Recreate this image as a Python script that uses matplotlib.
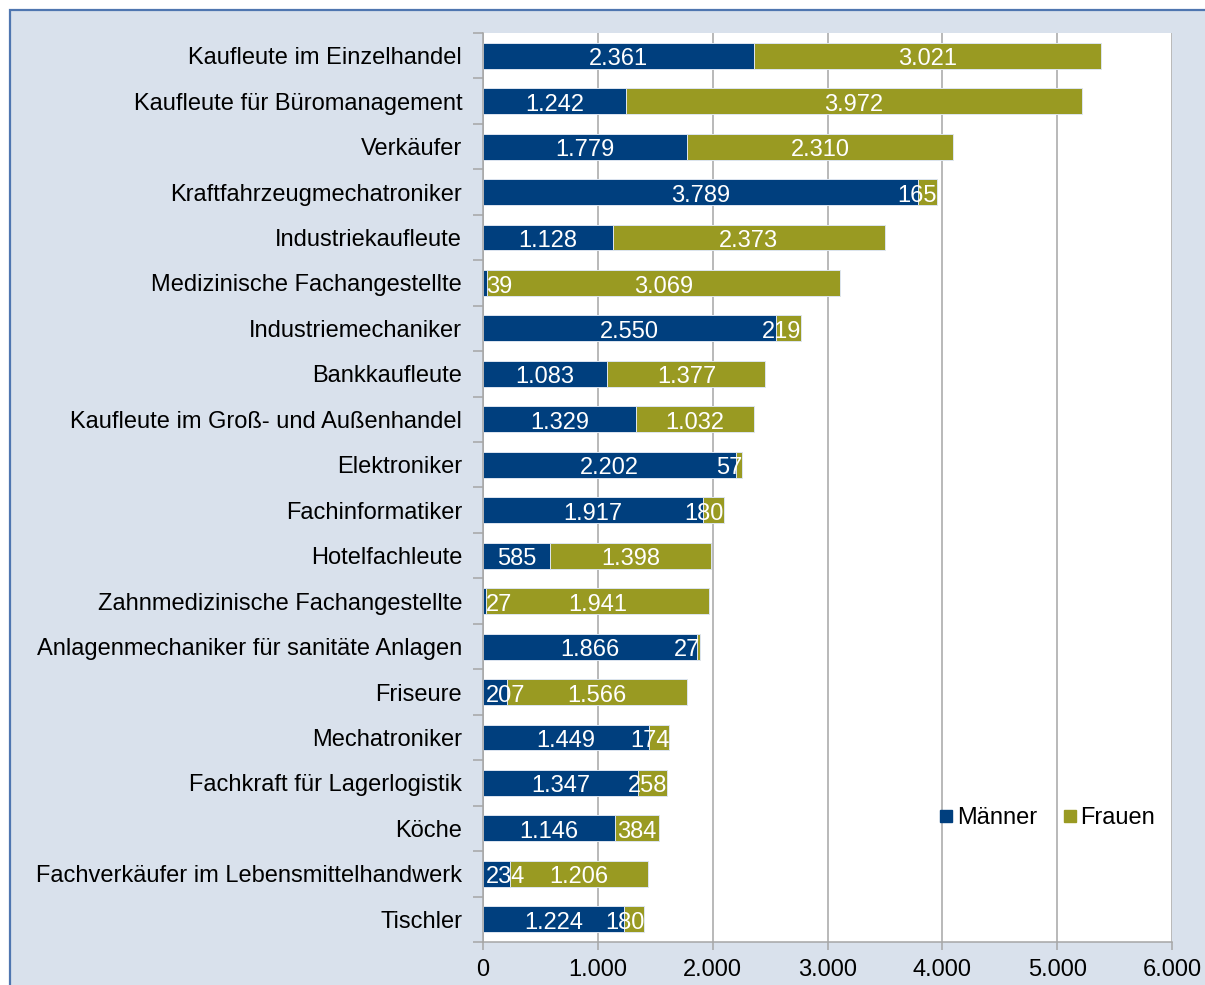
import matplotlib
matplotlib.use("Agg")
from matplotlib import pyplot as plt
from matplotlib.patches import Rectangle
from matplotlib.lines import Line2D
import numpy as np

plt.rcParams['font.family'] = ['Liberation Sans', 'DejaVu Sans']

berufe = ["Kaufleute im Einzelhandel", "Kaufleute für Büromanagement", "Verkäufer",
          "Kraftfahrzeugmechatroniker", "Industriekaufleute", "Medizinische Fachangestellte",
          "Industriemechaniker", "Bankkaufleute", "Kaufleute im Groß- und Außenhandel",
          "Elektroniker", "Fachinformatiker", "Hotelfachleute",
          "Zahnmedizinische Fachangestellte", "Anlagenmechaniker für sanitäte Anlagen",
          "Friseure", "Mechatroniker", "Fachkraft für Lagerlogistik", "Köche",
          "Fachverkäufer im Lebensmittelhandwerk", "Tischler"]
maenner = [2361, 1242, 1779, 3789, 1128, 39, 2550, 1083, 1329, 2202,
           1917, 585, 27, 1866, 207, 1449, 1347, 1146, 234, 1224]
frauen = [3021, 3972, 2310, 165, 2373, 3069, 219, 1377, 1032, 57,
          180, 1398, 1941, 27, 1566, 174, 258, 384, 1206, 180]
x_ticks = [0, 1000, 2000, 3000, 4000, 5000, 6000]

c_m = '#003f7e'
c_f = '#999a22'
grid_c = '#a6a6a6'
fs = 17

def de(v):
    return f"{v:,}".replace(",", ".")

W, H = 1205, 985
fig = plt.figure(figsize=(W / 100, H / 100), dpi=100, facecolor='white')
fig.patches.append(Rectangle((9.5 / W, -0.1), 1.2, (H - 10) / H + 0.1,
                             transform=fig.transFigure, facecolor='#d9e1ec',
                             edgecolor='#4f76b0', linewidth=1.6, zorder=-10))
ax = fig.add_axes([483 / W, 1 - 942 / H, (1172 - 483) / W, (942 - 33) / H])
ax.set_facecolor('white')

y = np.arange(len(berufe))
m = np.array(maenner)
f = np.array(frauen)
ax.barh(y, m, height=0.57, color=c_m, edgecolor='#dde5f0', linewidth=0.7, zorder=3)
ax.barh(y, f, left=m, height=0.57, color=c_f, edgecolor='#dde5f0', linewidth=0.7, zorder=3)

ax.set_xlim(0, 6000)
ax.set_ylim(len(berufe) - 0.5, -0.5)
ax.set_xticks(x_ticks)
ax.set_xticklabels([de(v) for v in x_ticks], fontsize=fs)
ax.set_yticks(np.arange(-0.5, len(berufe)))
ax.set_yticklabels([])
ax.set_yticks(y, minor=True)
ax.set_yticklabels(berufe, minor=True, fontsize=fs)
ax.tick_params(axis='y', which='minor', length=0, pad=15)
ax.tick_params(axis='y', which='major', length=7, width=1.1, color=grid_c)
ax.tick_params(axis='x', length=6, width=1.1, color=grid_c, pad=6)
ax.grid(axis='x', color=grid_c, linewidth=1.1, zorder=0)
ax.set_axisbelow(True)
for s in ['top', 'right']:
    ax.spines[s].set_visible(False)
for s in ['left', 'bottom']:
    ax.spines[s].set_color(grid_c)
    ax.spines[s].set_linewidth(1.1)
    ax.spines[s].set_zorder(4)

# data labels, centred in each segment but kept inside the whole bar
texts = []
for i in range(len(berufe)):
    tot = m[i] + f[i]
    for start, val in [(0, m[i]), (m[i], f[i])]:
        t = ax.text(start + val / 2, i + 0.21, de(val), ha='center', va='baseline',
                    color='white', fontsize=fs, zorder=5)
        texts.append((t, start + val / 2, tot))
fig.canvas.draw()
r = fig.canvas.get_renderer()
px_per_unit = (ax.transData.transform((1000, 0))[0] - ax.transData.transform((0, 0))[0]) / 1000
pad = 3 / px_per_unit
for t, cx, tot in texts:
    w = t.get_window_extent(r).width / px_per_unit
    nx = min(max(cx, w / 2 + pad), tot - w / 2)
    t.set_x(nx)

handles = [Line2D([], [], marker='s', linestyle='none', markersize=9, color=c_m),
           Line2D([], [], marker='s', linestyle='none', markersize=9, color=c_f)]
fig.legend(handles, ["Männer", "Frauen"], ncol=2, frameon=False, fontsize=fs,
           loc='center', bbox_to_anchor=(1046 / W, 1 - 818 / H),
           handletextpad=0.05, columnspacing=1.0, handlelength=0.8)

fig.savefig("out.png", dpi=100, facecolor=fig.get_facecolor())
